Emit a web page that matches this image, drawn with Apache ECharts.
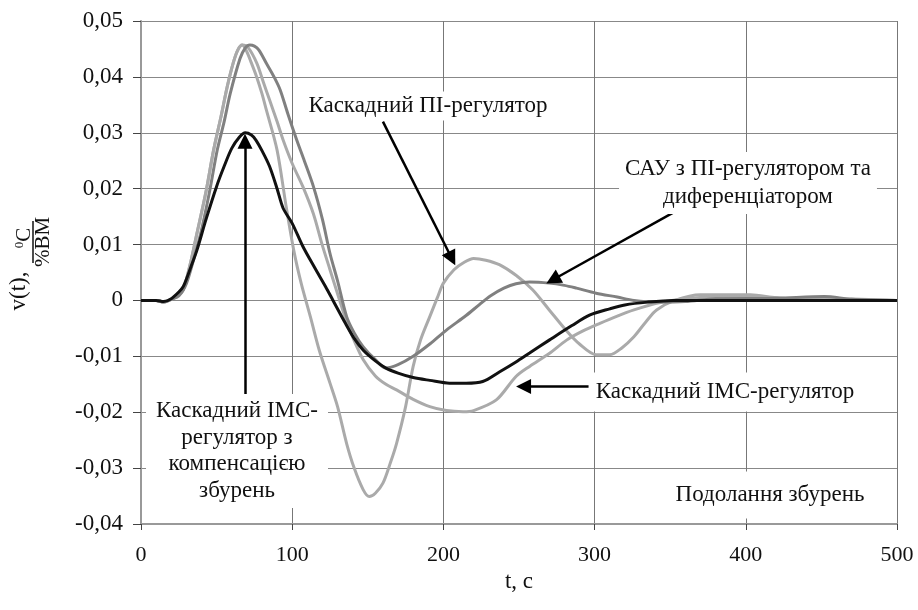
<!DOCTYPE html>
<html>
<head>
<meta charset="utf-8">
<script src="https://cdn.jsdelivr.net/npm/echarts@6/dist/echarts.min.js"></script>
<style>
html,body{margin:0;padding:0;background:#fff;}
#chart{width:918px;height:610px;}
</style>
</head>
<body>
<div id="chart"></div>
<script>
// ---- data (t, v) ----
const imcCompensation = [[0,0],[10,0],[15,-0.0002],[20,0.0003],[25,0.0015],[28,0.0025],[33,0.006],[37,0.009],[43,0.0145],[50,0.0204],[55,0.024],[60,0.0272],[65,0.0292],[69,0.030],[73,0.0296],[76,0.0287],[80,0.0268],[85,0.024],[90,0.020],[94,0.0165],[100,0.0138],[107,0.0097],[115,0.0058],[122,0.0025],[127,0.0],[135,-0.004],[141,-0.0068],[147,-0.0089],[155,-0.0108],[162,-0.0121],[170,-0.013],[180,-0.0138],[191,-0.0143],[204,-0.0148],[215,-0.0148],[226,-0.0145],[237,-0.0128],[248,-0.011],[257,-0.0094],[270,-0.0071],[285,-0.0045],[297,-0.0026],[310,-0.0015],[320,-0.0008],[335,-0.0003],[352,0],[380,0],[500,0]];
const piCascade = [[0,0],[10,0],[15,-0.0003],[20,0.0002],[25,0.001],[28,0.0019],[33,0.007],[37,0.012],[43,0.0195],[48,0.0269],[53,0.033],[57,0.0382],[61,0.0425],[64,0.0448],[67,0.0457],[70,0.0445],[73,0.0425],[76.5,0.040],[80,0.037],[83,0.034],[90,0.0269],[96,0.0168],[101,0.009],[106,0.003],[112,-0.0029],[118,-0.009],[125,-0.0148],[130,-0.019],[136,-0.0256],[141,-0.030],[147,-0.0339],[151,-0.0351],[155,-0.0345],[160,-0.0327],[165,-0.029],[169,-0.0256],[175,-0.019],[180,-0.0118],[185,-0.007],[191,-0.0029],[196,0.0005],[200,0.0031],[207,0.0055],[213,0.0067],[220,0.0075],[228,0.0072],[237,0.0064],[248,0.0045],[259,0.0019],[270,-0.0017],[281,-0.0053],[290,-0.0078],[301,-0.0097],[310,-0.0097],[318,-0.0085],[326,-0.0065],[334,-0.0038],[341,-0.0017],[353,0],[370,0.001],[403,0.001],[420,0.0005],[440,0.0002],[460,0.0003],[500,0]];
const imcCascade = [[0,0],[10,0],[15,-0.0003],[20,0.0002],[25,0.001],[28,0.0019],[33,0.007],[37,0.012],[43,0.0195],[48,0.0269],[53,0.033],[57,0.0382],[61,0.0425],[64,0.0448],[67,0.0457],[71,0.0452],[76.5,0.0425],[81,0.039],[85,0.0359],[90,0.032],[94,0.0287],[100,0.0245],[107,0.0204],[114,0.0155],[120,0.0098],[125,0.0055],[130,0.0012],[136,-0.0038],[141,-0.0072],[147,-0.0106],[155,-0.0135],[162,-0.015],[169,-0.016],[180,-0.0177],[191,-0.019],[202,-0.0197],[213,-0.0199],[220,-0.0197],[235,-0.0178],[248,-0.0136],[257,-0.0118],[270,-0.0095],[281.5,-0.0071],[292,-0.0055],[303.5,-0.0041],[315,-0.0028],[326,-0.0017],[341,-0.0005],[357,0.0002],[380,0.0006],[420,0.0005],[440,0],[500,0]];
const sauDiff = [[0,0],[10,0],[15,-0.0003],[20,0.0002],[25,0.0008],[30,0.003],[35,0.0075],[39.5,0.012],[45,0.019],[50.5,0.027],[55,0.032],[59,0.037],[65.5,0.0433],[69,0.0452],[72,0.0457],[75,0.0455],[78,0.0448],[83,0.0424],[88,0.040],[92,0.0377],[97,0.0335],[103,0.0287],[108,0.025],[114,0.0204],[120,0.0145],[125,0.0084],[130,0.0035],[136,-0.0029],[141,-0.0058],[147,-0.0083],[155,-0.0106],[162,-0.0121],[170,-0.0115],[180,-0.010],[191,-0.0078],[202,-0.0053],[215,-0.0027],[224,-0.0007],[231,0.0008],[240,0.0022],[248,0.003],[257,0.0033],[270,0.0031],[280,0.0027],[288,0.0022],[301,0.0013],[315,0.0006],[326,0],[341,-0.0003],[360,-0.0002],[380,0.0003],[420,0.0004],[452,0.0007],[470,0.0002],[500,0]];

// annotation arrows: [start(t,v), end(t,v)] (end = centre of arrowhead)
const arrowPI  = [[160, 0.032], [205.6, 0.0075]];
const arrowSAU = [[358.5, 0.0167], [272.4, 0.0037]];
const arrowIMC = [[296, -0.0154], [253, -0.0154]];
const arrowComp = [[68.8, -0.0175], [68.8, 0.0285]];

const xTicks = {min: 0, max: 500, step: 100};
const yTicks = {min: -0.04, max: 0.05, step: 0.01};

const FONT = '"Liberation Serif", "DejaVu Serif", serif';

const chart = echarts.init(document.getElementById('chart'), null, {renderer: 'canvas'});

function lineSeries(name, data, color, z) {
  return {
    name, type: 'line', data, showSymbol: false, smooth: 0.3, z,
    lineStyle: {color, width: 3}, itemStyle: {color}
  };
}

function arrow(a) { return [{coord: a[0]}, {coord: a[1]}]; }

const series = [
  lineSeries('Каскадний ПІ-регулятор', piCascade, '#aaaaaa', 3),
  lineSeries('Каскадний IMC-регулятор', imcCascade, '#aaaaaa', 3),
  lineSeries('САУ з ПІ-регулятором та диференціатором', sauDiff, '#808080', 4),
  lineSeries('Каскадний IMC-регулятор з компенсацією збурень', imcCompensation, '#111111', 5)
];
series[3].markLine = {
  silent: true, animation: false,
  symbol: ['none', 'triangle'], symbolSize: 15,
  label: {show: false},
  lineStyle: {color: '#000', width: 2.5, type: 'solid'},
  emphasis: {disabled: true},
  data: [arrow(arrowPI), arrow(arrowSAU), arrow(arrowIMC), arrow(arrowComp)]
};

function txt(text, x, y, extra) {
  return {
    type: 'text', x, y, z: 100,
    style: Object.assign({
      text, font: '23px ' + FONT, fill: '#111', align: 'center', verticalAlign: 'middle'
    }, extra || {})
  };
}

chart.setOption({
  animation: false,
  backgroundColor: '#fff',
  grid: {left: 141, right: 21, top: 21, bottom: 86, containLabel: false},
  xAxis: {
    type: 'value', min: xTicks.min, max: xTicks.max, interval: xTicks.step,
    name: 't, c', nameLocation: 'middle', nameGap: 44,
    nameTextStyle: {fontFamily: FONT, fontSize: 23, color: '#111'},
    axisLine: {show: true, onZero: false, lineStyle: {color: '#999', width: 2}},
    axisTick: {show: true, inside: false, length: 6, lineStyle: {color: '#444', width: 1}},
    axisLabel: {fontFamily: FONT, fontSize: 22, color: '#111', margin: 20},
    splitLine: {show: true, lineStyle: {color: '#777', width: 1}}
  },
  yAxis: {
    type: 'value', min: yTicks.min, max: yTicks.max, interval: yTicks.step,
    axisLine: {show: true, onZero: false, lineStyle: {color: '#999', width: 2}},
    axisTick: {show: true, inside: false, length: 8, lineStyle: {color: '#444', width: 1}},
    axisLabel: {
      fontFamily: FONT, fontSize: 23, color: '#111', margin: 18,
      formatter: v => Math.abs(v) < 1e-9 ? '0' : v.toFixed(2).replace('.', ',')
    },
    splitLine: {show: true, lineStyle: {color: '#888', width: 1}}
  },
  series,
  graphic: [
    txt('Каскадний ПІ-регулятор', 428, 106, {backgroundColor: '#fff', padding: [3, 2]}),
    txt('САУ з ПІ-регулятором та\nдиференціатором', 748, 183, {backgroundColor: '#fff', padding: [3, 6], lineHeight: 28}),
    txt('Каскадний IMC-регулятор', 725, 392, {backgroundColor: '#fff', padding: [8, 6]}),
    txt('Каскадний IMC-\nрегулятор з\nкомпенсацією\nзбурень', 237, 451, {backgroundColor: '#fff', padding: [4, 10], lineHeight: 26.5}),
    txt('Подолання збурень', 770, 495, {backgroundColor: '#fff', padding: [12, 14]}),
    // y axis name (rotated)
    {type: 'text', x: 19, y: 291, rotation: Math.PI / 2, z: 100,
      style: {text: 'v(t),', font: '23px ' + FONT, fill: '#111', align: 'center', verticalAlign: 'middle'}},
    {type: 'text', x: 24, y: 238, rotation: Math.PI / 2, z: 100,
      style: {text: '{s|0}C', align: 'center', verticalAlign: 'middle',
        rich: {s: {font: '13px ' + FONT, fill: '#111', verticalAlign: 'top', padding: [0, 0, 8, 0]}},
        font: '21px ' + FONT, fill: '#111'}},
    {type: 'line', z: 100, shape: {x1: 33, y1: 221, x2: 33, y2: 263}, style: {stroke: '#111', lineWidth: 1.5}},
    {type: 'text', x: 43, y: 242, rotation: Math.PI / 2, z: 100,
      style: {text: '%BM', font: '21px ' + FONT, fill: '#111', align: 'center', verticalAlign: 'middle'}}
  ]
});
</script>
</body>
</html>
